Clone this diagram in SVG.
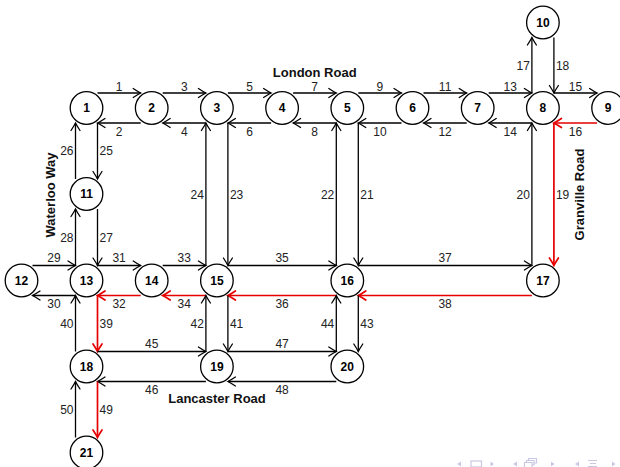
<svg xmlns="http://www.w3.org/2000/svg" width="620" height="467" viewBox="0 0 620 467">
<style>
.e{fill:none;stroke:#000;stroke-width:1.3;marker-end:url(#ab)}
.r{fill:none;stroke:#e60000;stroke-width:1.7;marker-end:url(#ar)}
.n circle{fill:#fff;stroke:#000;stroke-width:1.3}
.n text{font-family:"Liberation Sans",Arial,sans-serif;font-weight:bold;font-size:12px;text-anchor:middle;fill:#000}
.l{font-family:"Liberation Sans",Arial,sans-serif;font-size:12px;fill:#222}
.m{text-anchor:middle}
.s{text-anchor:end}
.rd{font-family:"Liberation Sans",Arial,sans-serif;font-weight:bold;font-size:13px;text-anchor:middle;fill:#111}
.nav{fill:#c8c8e4;stroke:none}
.navs{fill:none;stroke:#c8c8e4;stroke-width:1.2}
</style>
<defs>
<marker id="ab" markerWidth="12" markerHeight="12" refX="0" refY="0" viewBox="-10 -6 12 12" orient="auto" markerUnits="userSpaceOnUse">
<path d="M-7.5,-4.5 Q-2.5,-1.2 0,0 Q-2.5,1.2 -7.5,4.5" fill="none" stroke="#000" stroke-width="1.3" stroke-linecap="round"/>
</marker>
<marker id="ar" markerWidth="12" markerHeight="12" refX="0" refY="0" viewBox="-10 -6 12 12" orient="auto" markerUnits="userSpaceOnUse">
<path d="M-7.5,-4.5 Q-2.5,-1.2 0,0 Q-2.5,1.2 -7.5,4.5" fill="none" stroke="#e60000" stroke-width="1.7" stroke-linecap="round"/>
</marker>
</defs>
<rect width="620" height="467" fill="#fff"/>
<g id="connectors">
<path class="e" d="M97.5,93 H140.7"/>
<path class="e" d="M140.7,123 H97.5"/>
<path class="e" d="M162.7,93 H205.9"/>
<path class="e" d="M205.9,123 H162.7"/>
<path class="e" d="M227.9,93 H271.1"/>
<path class="e" d="M271.1,123 H227.9"/>
<path class="e" d="M293.1,93 H336.3"/>
<path class="e" d="M336.3,123 H293.1"/>
<path class="e" d="M358.3,93 H401.5"/>
<path class="e" d="M401.5,123 H358.3"/>
<path class="e" d="M423.5,93 H466.7"/>
<path class="e" d="M466.7,123 H423.5"/>
<path class="e" d="M488.7,93 H531.9"/>
<path class="e" d="M531.9,123 H488.7"/>
<path class="e" d="M553.9,93 H597.1"/>
<path class="r" d="M597.1,123 H553.9"/>
<path class="e" d="M531.9,93 V37.5"/>
<path class="e" d="M553.9,37.5 V93"/>
<path class="r" d="M553.9,123 V265.5"/>
<path class="e" d="M531.9,265.5 V123"/>
<path class="e" d="M358.3,123 V265.5"/>
<path class="e" d="M336.3,265.5 V123"/>
<path class="e" d="M227.9,123 V265.5"/>
<path class="e" d="M205.9,265.5 V123"/>
<path class="e" d="M97.5,123 V179"/>
<path class="e" d="M75.5,179 V123"/>
<path class="e" d="M97.5,209 V265.5"/>
<path class="e" d="M75.5,265.5 V209"/>
<path class="e" d="M32.5,265.5 H75.5"/>
<path class="e" d="M75.5,295.5 H32.5"/>
<path class="e" d="M97.5,265.5 H140.7"/>
<path class="r" d="M140.7,295.5 H97.5"/>
<path class="e" d="M162.7,265.5 H205.9"/>
<path class="r" d="M205.9,295.5 H162.7"/>
<path class="e" d="M227.9,265.5 H336.3"/>
<path class="r" d="M336.3,295.5 H227.9"/>
<path class="e" d="M358.3,265.5 H531.9"/>
<path class="r" d="M531.9,295.5 H358.3"/>
<path class="r" d="M97.5,295.5 V351.5"/>
<path class="e" d="M75.5,351.5 V295.5"/>
<path class="e" d="M227.9,295.5 V351.5"/>
<path class="e" d="M205.9,351.5 V295.5"/>
<path class="e" d="M358.3,295.5 V351.5"/>
<path class="e" d="M336.3,351.5 V295.5"/>
<path class="e" d="M97.5,351.5 H205.9"/>
<path class="e" d="M205.9,381.5 H97.5"/>
<path class="e" d="M227.9,351.5 H336.3"/>
<path class="e" d="M336.3,381.5 H227.9"/>
<path class="r" d="M97.5,381.5 V437.5"/>
<path class="e" d="M75.5,437.5 V381.5"/>
</g>
<g id="edge-labels">
<text class="l m" x="119.1" y="90.5">1</text>
<text class="l m" x="119.1" y="135.5">2</text>
<text class="l m" x="184.3" y="90.5">3</text>
<text class="l m" x="184.3" y="135.5">4</text>
<text class="l m" x="249.5" y="90.5">5</text>
<text class="l m" x="249.5" y="135.5">6</text>
<text class="l m" x="314.7" y="90.5">7</text>
<text class="l m" x="314.7" y="135.5">8</text>
<text class="l m" x="379.9" y="90.5">9</text>
<text class="l m" x="379.9" y="135.5">10</text>
<text class="l m" x="445.1" y="90.5">11</text>
<text class="l m" x="445.1" y="135.5">12</text>
<text class="l m" x="510.3" y="90.5">13</text>
<text class="l m" x="510.3" y="135.5">14</text>
<text class="l m" x="575.5" y="90.5">15</text>
<text class="l m" x="575.5" y="135.5">16</text>
<text class="l s" x="529.9" y="69.5">17</text>
<text class="l" x="555.9" y="69.5">18</text>
<text class="l" x="555.9" y="198.5">19</text>
<text class="l s" x="529.9" y="198.5">20</text>
<text class="l" x="360.3" y="198.5">21</text>
<text class="l s" x="334.3" y="198.5">22</text>
<text class="l" x="229.9" y="198.5">23</text>
<text class="l s" x="203.9" y="198.5">24</text>
<text class="l" x="99.5" y="155.3">25</text>
<text class="l s" x="73.5" y="155.3">26</text>
<text class="l" x="99.5" y="241.5">27</text>
<text class="l s" x="73.5" y="241.5">28</text>
<text class="l m" x="54" y="262">29</text>
<text class="l m" x="54" y="307.8">30</text>
<text class="l m" x="119.1" y="262">31</text>
<text class="l m" x="119.1" y="307.8">32</text>
<text class="l m" x="184.3" y="262">33</text>
<text class="l m" x="184.3" y="307.8">34</text>
<text class="l m" x="282.1" y="262">35</text>
<text class="l m" x="282.1" y="307.8">36</text>
<text class="l m" x="445.1" y="262">37</text>
<text class="l m" x="445.1" y="307.8">38</text>
<text class="l" x="99.5" y="327.8">39</text>
<text class="l s" x="73.5" y="327.8">40</text>
<text class="l" x="229.9" y="327.8">41</text>
<text class="l s" x="203.9" y="327.8">42</text>
<text class="l" x="360.3" y="327.8">43</text>
<text class="l s" x="334.3" y="327.8">44</text>
<text class="l m" x="151.7" y="348">45</text>
<text class="l m" x="151.7" y="393.8">46</text>
<text class="l m" x="282.1" y="348">47</text>
<text class="l m" x="282.1" y="393.8">48</text>
<text class="l" x="99.5" y="413.8">49</text>
<text class="l s" x="73.5" y="413.8">50</text>
</g>
<g id="road-labels">
<text class="rd" x="314.7" y="77">London Road</text>
<text class="rd" transform="translate(55,195) rotate(-90)">Waterloo Way</text>
<text class="rd" transform="translate(584,194.5) rotate(-90)">Granville Road</text>
<text class="rd" x="217" y="403">Lancaster Road</text>
</g>
<g id="node1" class="n"><circle cx="86.5" cy="108" r="16.3"/><text x="86.5" y="112.3">1</text></g>
<g id="node2" class="n"><circle cx="151.7" cy="108" r="16.3"/><text x="151.7" y="112.3">2</text></g>
<g id="node3" class="n"><circle cx="216.9" cy="108" r="16.3"/><text x="216.9" y="112.3">3</text></g>
<g id="node4" class="n"><circle cx="282.1" cy="108" r="16.3"/><text x="282.1" y="112.3">4</text></g>
<g id="node5" class="n"><circle cx="347.3" cy="108" r="16.3"/><text x="347.3" y="112.3">5</text></g>
<g id="node6" class="n"><circle cx="412.5" cy="108" r="16.3"/><text x="412.5" y="112.3">6</text></g>
<g id="node7" class="n"><circle cx="477.7" cy="108" r="16.3"/><text x="477.7" y="112.3">7</text></g>
<g id="node8" class="n"><circle cx="542.9" cy="108" r="16.3"/><text x="542.9" y="112.3">8</text></g>
<g id="node9" class="n"><circle cx="608.1" cy="108" r="16.3"/><text x="608.1" y="112.3">9</text></g>
<g id="node10" class="n"><circle cx="542.9" cy="22.5" r="16.3"/><text x="542.9" y="26.8">10</text></g>
<g id="node11" class="n"><circle cx="86.5" cy="194" r="16.3"/><text x="86.5" y="198.3">11</text></g>
<g id="node12" class="n"><circle cx="21.5" cy="280.5" r="16.3"/><text x="21.5" y="284.8">12</text></g>
<g id="node13" class="n"><circle cx="86.5" cy="280.5" r="16.3"/><text x="86.5" y="284.8">13</text></g>
<g id="node14" class="n"><circle cx="151.7" cy="280.5" r="16.3"/><text x="151.7" y="284.8">14</text></g>
<g id="node15" class="n"><circle cx="216.9" cy="280.5" r="16.3"/><text x="216.9" y="284.8">15</text></g>
<g id="node16" class="n"><circle cx="347.3" cy="280.5" r="16.3"/><text x="347.3" y="284.8">16</text></g>
<g id="node17" class="n"><circle cx="542.9" cy="280.5" r="16.3"/><text x="542.9" y="284.8">17</text></g>
<g id="node18" class="n"><circle cx="86.5" cy="366.5" r="16.3"/><text x="86.5" y="370.8">18</text></g>
<g id="node19" class="n"><circle cx="216.9" cy="366.5" r="16.3"/><text x="216.9" y="370.8">19</text></g>
<g id="node20" class="n"><circle cx="347.3" cy="366.5" r="16.3"/><text x="347.3" y="370.8">20</text></g>
<g id="node21" class="n"><circle cx="86.5" cy="452.5" r="16.3"/><text x="86.5" y="456.8">21</text></g>
<g id="nav">
<path class="nav" d="M457,464 L461,461.5 V466.5 Z"/>
<rect class="navs" x="471" y="461" width="10.5" height="6"/>
<path class="nav" d="M494,464 L490.5,461.5 V466.5 Z"/>
<path class="nav" d="M513,464 L517,461.5 V466.5 Z"/>
<path class="navs" d="M524.5,467 V462.5 H532 V467 M526.5,462.5 V460.5 H534 V465 H532 M528.5,460.5 V458.5 H536.5 V463 H534"/>
<path class="nav" d="M554.5,464 L551,461.5 V466.5 Z"/>
<path class="nav" d="M575,464 L579,461.5 V466.5 Z"/>
<path class="navs" d="M588,460.5 H597 M590,463.5 H596 M588,466.5 H597"/>
<path class="nav" d="M615.5,464 L612,461.5 V466.5 Z"/>
</g>
</svg>
